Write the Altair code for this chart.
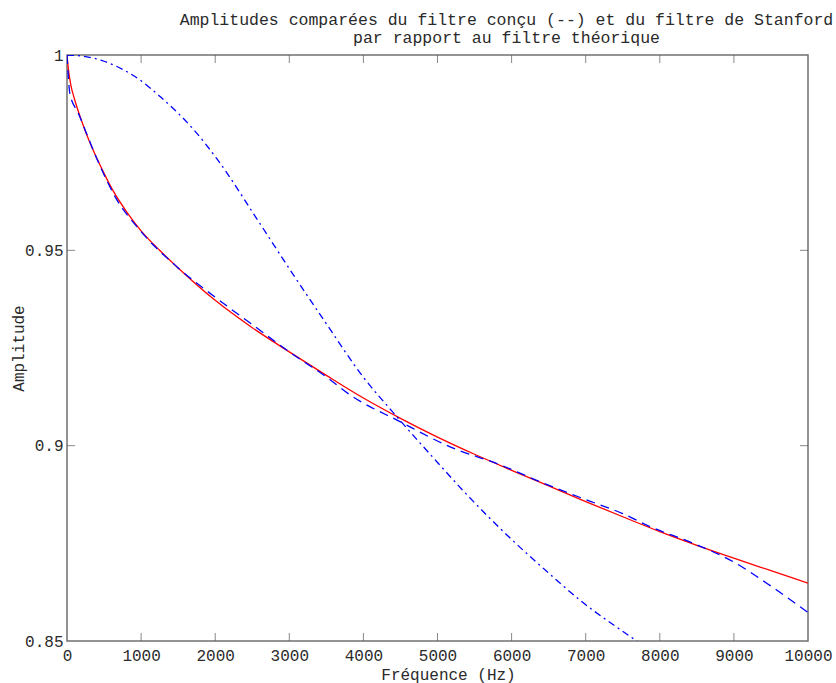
import altair as alt
import pandas as pd

# ---- data ----
freq_theory = [0, 20, 50, 100, 200, 300, 400, 500, 600, 800, 1000, 1250, 1500, 2000, 2500,
               3000, 3500, 4000, 4500, 5000, 5500, 6000, 6500, 7000, 7500, 8000, 8500,
               9000, 9500, 10000]
amp_theory = [1.0, 0.9962, 0.9925, 0.9888, 0.9830, 0.9780, 0.9737, 0.9697, 0.9660, 0.9600,
              0.9550, 0.9500, 0.9455, 0.9372, 0.9302, 0.9240, 0.9180, 0.9122, 0.9070,
              0.9022, 0.8978, 0.8937, 0.8897, 0.8857, 0.8818, 0.8780, 0.8745, 0.8712,
              0.8680, 0.8648]

freq_design = [0, 40, 150, 450, 650, 1000, 1500, 2000, 2500, 3000, 3500, 3820, 4500, 5170,
               5845, 6430, 7000, 7500, 7866, 8452, 8990, 9442, 10000]
amp_design = [1.0, 0.990, 0.9852, 0.9714, 0.9637, 0.9548, 0.9455, 0.938, 0.931, 0.924,
              0.9176, 0.913, 0.9061, 0.8997, 0.8951, 0.8904, 0.8862, 0.8826, 0.8793,
              0.8750, 0.8703, 0.8648, 0.8573]

freq_stanford = [0, 250, 500, 811, 1000, 1260, 1500, 1709, 2024, 2564, 3000, 3500, 4000,
                 4406, 5000, 5350, 6000, 6500, 6920, 7665, 7800]
amp_stanford = [1.0, 0.9996, 0.9984, 0.9957, 0.9934, 0.9893, 0.9851, 0.9809, 0.9734,
                0.9580, 0.9453, 0.9312, 0.9175, 0.9084, 0.8957, 0.8884, 0.8760, 0.8674,
                0.8605, 0.8503, 0.8485]

x_ticks = [0, 1000, 2000, 3000, 4000, 5000, 6000, 7000, 8000, 9000, 10000]
y_ticks = [0.85, 0.9, 0.95, 1.0]
x_inner_ticks = x_ticks[1:-1]
y_inner_ticks = y_ticks[1:-1]

title_lines = ["Amplitudes comparées du filtre conçu (--) et du filtre de Stanford",
               "par rapport au filtre théorique" + "\u00a0" * 5]
x_title = "Fréquence (Hz)"
y_title = "Amplitude"

# ---- styling ----
FONT = "Liberation Mono"
W, H = 741, 586
TXT = "#2a2a2a"
TICK = "#555555"

xs = alt.Scale(domain=[0, 10000], nice=False, zero=False)
ys = alt.Scale(domain=[0.85, 1.0], nice=False, zero=False)

x_axis = alt.Axis(values=x_ticks, format="d", title=x_title, grid=False, domain=False,
                  ticks=False, labelPadding=19, labelBaseline="alphabetic",
                  labelFont=FONT, labelFontSize=16, labelColor=TXT, labelFlush=False,
                  labelOverlap=False,
                  titleFont=FONT, titleFontSize=16, titleFontWeight="normal",
                  titleColor=TXT, titleX=381, titleY=38, titleBaseline="alphabetic",
                  titleAlign="center")
y_axis = alt.Axis(values=y_ticks, format="~g", title=y_title, grid=False, domain=False,
                  ticks=False, labelPadding=4, labelBaseline="middle",
                  labelFont=FONT, labelFontSize=16, labelColor=TXT, labelFlush=False,
                  labelOverlap=False,
                  titleFont=FONT, titleFontSize=16, titleFontWeight="normal",
                  titleColor=TXT, titleX=-44, titleY=H / 2, titleAngle=-90,
                  titleBaseline="alphabetic", titleAlign="center")

X = alt.X("x:Q", scale=xs, axis=x_axis, title=x_title)
Y = alt.Y("y:Q", scale=ys, axis=y_axis, title=y_title)

df_theory = pd.DataFrame({"x": freq_theory, "y": amp_theory})
df_design = pd.DataFrame({"x": freq_design, "y": amp_design})
df_stanford = pd.DataFrame({"x": freq_stanford, "y": amp_stanford})
df_xt = pd.DataFrame({"x": x_inner_ticks})
df_yt = pd.DataFrame({"y": y_inner_ticks})

theory = alt.Chart(df_theory).mark_line(color="#ff0000", strokeWidth=1.3,
                                        interpolate="monotone", clip=True).encode(x=X, y=Y)
design = alt.Chart(df_design).mark_line(color="#0000ff", strokeWidth=1.3,
                                        strokeDash=[9, 6], interpolate="monotone",
                                        clip=True).encode(x=X, y=Y)
stanford = alt.Chart(df_stanford).mark_line(color="#0000ff", strokeWidth=1.3,
                                            strokeDash=[7, 4, 2, 4],
                                            interpolate="monotone",
                                            clip=True).encode(x=X, y=Y)

tick_top = alt.Chart(df_xt).mark_tick(color=TICK, thickness=1, size=8).encode(
    x=X, y=alt.value(4))
tick_bottom = alt.Chart(df_xt).mark_tick(color=TICK, thickness=1, size=8).encode(
    x=X, y=alt.value(H - 4))
tick_left = alt.Chart(df_yt).mark_tick(color=TICK, thickness=1, size=8).encode(
    y=Y, x=alt.value(4))
tick_right = alt.Chart(df_yt).mark_tick(color=TICK, thickness=1, size=8).encode(
    y=Y, x=alt.value(W - 4))

chart = alt.layer(theory, design, stanford, tick_top, tick_bottom, tick_left, tick_right).properties(
    width=W, height=H,
    title=alt.Title(text=title_lines, font=FONT, fontSize=16.5, fontWeight="normal",
                    color=TXT, anchor="middle", dx=69, offset=1, lineHeight=18,
                    frame="group"),
    autosize=alt.AutoSizeParams(type="none"),
    padding={"left": 67, "top": 55, "right": 28, "bottom": 42},
    background="white",
).configure_view(stroke="#707070", strokeWidth=1.5)

chart.save("out.html", embed_options={"renderer": "svg", "actions": False})
